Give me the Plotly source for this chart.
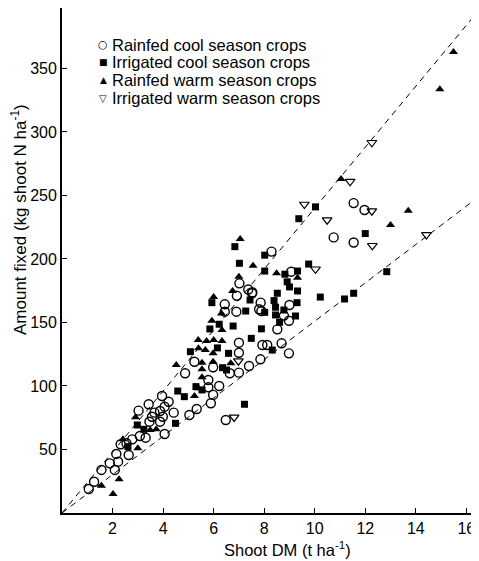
import plotly.graph_objects as go

# Rainfed cool season crops (open circles)
rc_x = [9.07, 7.53, 7.02, 7.37, 7.52, 6.92, 6.44, 6.44, 6.90, 7.86, 7.89, 7.00, 7.93, 8.12, 7.00, 7.85,
        5.24, 5.98, 4.87, 7.00, 6.64, 7.40, 5.79, 5.79, 6.22, 5.98, 5.89, 5.04, 5.33, 6.48, 4.42, 3.96,
        4.22, 4.06, 3.88, 3.99, 3.88, 4.06, 3.43, 3.03, 3.46, 3.56, 3.66, 3.08, 2.78, 2.55, 2.32, 2.64,
        2.15, 2.22, 1.89, 1.56, 2.09, 1.27, 1.06, 3.31, 11.54, 11.97, 10.75, 11.54, 8.29, 7.80, 9.00,
        8.78, 8.98, 8.52, 8.69, 8.98]
rc_y = [190, 173.8, 180.8, 176, 173, 171, 164.3, 158.5, 158.5, 165.6, 159, 134.1, 132.3, 132.3, 126.2, 121,
        119.1, 114.7, 110, 110.5, 110, 115.7, 104.7, 99, 100, 93, 86.4, 77.2, 81.9, 73.2, 79, 92.1,
        87.6, 83.7, 80.3, 75.8, 71.9, 62.2, 85.6, 80.6, 71.9, 75.8, 79, 60.6, 58, 54.9, 54.1, 45.7,
        46.5, 40.4, 39.1, 33.9, 33.9, 24.6, 18.9, 59.3, 244, 238.6, 217, 213, 205.8, 160.4, 163.8,
        155.4, 151.4, 144.6, 133.6, 125.7]

# Irrigated cool season crops (filled squares)
ic_x = [10.03, 9.37, 12.00, 12.85, 11.54, 11.18, 10.22, 8.02, 8.02, 8.82, 9.32, 9.76, 8.91, 9.00, 9.32,
        8.52, 6.84, 7.02, 5.93, 7.27, 7.44, 6.22, 5.85, 6.77, 7.89, 7.49, 5.08, 6.15, 6.59, 6.35, 6.51,
        5.30, 5.54, 7.22, 4.58, 4.84, 4.49, 2.98, 3.24, 2.61, 8.39, 9.30, 8.02, 8.45, 8.78, 8.45, 9.24,
        8.61, 8.32]
ic_y = [241, 231.7, 220, 190, 173, 168.5, 170, 203, 190.5, 188, 190.5, 196, 182, 178, 174.8,
        173, 209.7, 196.6, 165.6, 159, 167.7, 148.6, 144.9, 147.2, 145, 137.5, 127, 130, 125.7, 114.4, 112.6,
        99.5, 96.9, 85.6, 96, 91.6, 70.6, 69.3, 65.9, 52.2, 167.2, 165.6, 158, 162, 159.8, 155.9, 155.1,
        150.2, 128.3]

# Rainfed warm season crops (filled triangles)
rw_x = [11.04, 13.70, 13.00, 7.56, 8.49, 9.32, 7.05, 7.00, 6.75, 6.00, 6.31, 5.93, 6.33, 5.39, 5.72,
        6.00, 6.33, 5.40, 5.67, 5.98, 5.54, 5.98, 6.68, 4.52, 5.54, 5.54, 5.40, 5.24, 2.91, 3.49, 3.73,
        2.41, 3.00, 2.26, 1.56, 2.02, 15.49, 14.95]
rw_y = [263, 238, 226.8, 194.7, 188.7, 185.3, 215.7, 186, 174.8, 170, 157, 151.4, 144, 136.2, 135.4,
        136.2, 135.4, 129.7, 128.3, 125.7, 118.3, 119.1, 117.9, 116.5, 113.1, 106.8, 98.2, 92.1, 75.4, 65.4, 65.9,
        58, 50.9, 26.5, 21.5, 15, 363, 333.6]

# Irrigated warm season crops (open down-triangles)
iw_x = [12.26, 11.40, 9.59, 10.49, 12.26, 12.28, 14.42, 10.03, 6.98, 6.81]
iw_y = [291.6, 261, 243, 230.7, 237.8, 210.5, 219, 192, 119.7, 75.4]

series_names = ["Rainfed cool season crops", "Irrigated cool season crops",
                "Rainfed warm season crops", "Irrigated warm season crops"]
legend_glyphs = ["○", "■", "▲", "▽"]

# Boundary lines (kg N per t shoot DM)
line_x = [0, 16.5]
upper_slope = 24
lower_slope = 15.1

x_ticks = [2, 4, 6, 8, 10, 12, 14, 16]
y_ticks = [50, 100, 150, 200, 250, 300, 350]

FONT = "Liberation Sans, Arial, sans-serif"

fig = go.Figure()

for slope in (upper_slope, lower_slope):
    fig.add_trace(go.Scatter(
        x=line_x, y=[v * slope for v in line_x], mode="lines",
        line=dict(color="black", width=1, dash="6px,5px"),
        showlegend=False, hoverinfo="skip"))

fig.add_trace(go.Scatter(x=rc_x, y=rc_y, mode="markers", name=series_names[0],
                         marker=dict(symbol="circle-open", size=9, color="black", line=dict(width=1.4))))
fig.add_trace(go.Scatter(x=ic_x, y=ic_y, mode="markers", name=series_names[1],
                         marker=dict(symbol="square", size=7, color="black")))
fig.add_trace(go.Scatter(x=rw_x, y=rw_y, mode="markers", name=series_names[2],
                         marker=dict(symbol="triangle-up", size=8, color="black")))
fig.add_trace(go.Scatter(x=iw_x, y=iw_y, mode="markers", name=series_names[3],
                         marker=dict(symbol="triangle-down-open", size=8.5, color="black", line=dict(width=1.2))))

# Legend (text annotations in paper coordinates; page is offset by an 8px body margin)
PLOT_L, PLOT_B, PLOT_W, PLOT_H = 62, 513, 417, 505
def px(page_x):
    return (page_x - PLOT_L) / PLOT_W
def py(page_y):
    return (PLOT_B - page_y) / PLOT_H

annotations = []
row_y = [45, 62, 80, 98]
glyph_sizes = [11, 9, 9, 10]
for name, glyph, gs, ry in zip(series_names, legend_glyphs, glyph_sizes, row_y):
    annotations.append(dict(text=glyph, x=px(103), y=py(ry), xref="paper", yref="paper",
                            xanchor="center", yanchor="middle", showarrow=False,
                            font=dict(family="DejaVu Sans", size=gs, color="black")))
    annotations.append(dict(text=name, x=px(110), y=py(ry), xref="paper", yref="paper",
                            xanchor="left", yanchor="middle", showarrow=False,
                            font=dict(size=16.5, color="black")))

annotations.append(dict(text="Amount fixed (kg shoot N ha<sup>-1</sup>)", textangle=-90,
                        xref="paper", yref="paper", x=px(19), y=py(220),
                        xanchor="center", yanchor="middle", showarrow=False,
                        font=dict(size=17)))
annotations.append(dict(text="Shoot DM (t ha<sup>-1</sup>)",
                        xref="paper", yref="paper", x=px(287), y=py(549),
                        xanchor="center", yanchor="middle", showarrow=False,
                        font=dict(size=16.5)))

fig.update_layout(
    template="none",
    width=471, height=553,
    margin=dict(l=54, r=0, t=0, b=48, autoexpand=False),
    paper_bgcolor="white", plot_bgcolor="white",
    font=dict(family=FONT, size=16, color="black"),
    showlegend=False,
    xaxis=dict(range=[0, 16.5], tickvals=x_ticks, ticks="inside", ticklen=5, tickwidth=1.2,
               tickcolor="black", automargin=False,
               showline=True, linecolor="black", linewidth=1.8, mirror=True,
               showgrid=False, zeroline=False, tickfont=dict(size=16)),
    yaxis=dict(range=[0, 397.6], tickvals=y_ticks, ticks="inside", ticklen=5, tickwidth=1.2,
               tickcolor="black", automargin=False,
               showline=True, linecolor="black", linewidth=1.8,
               showgrid=False, zeroline=False, tickfont=dict(size=16)),
    annotations=annotations,
)

fig.write_html("out.html")
